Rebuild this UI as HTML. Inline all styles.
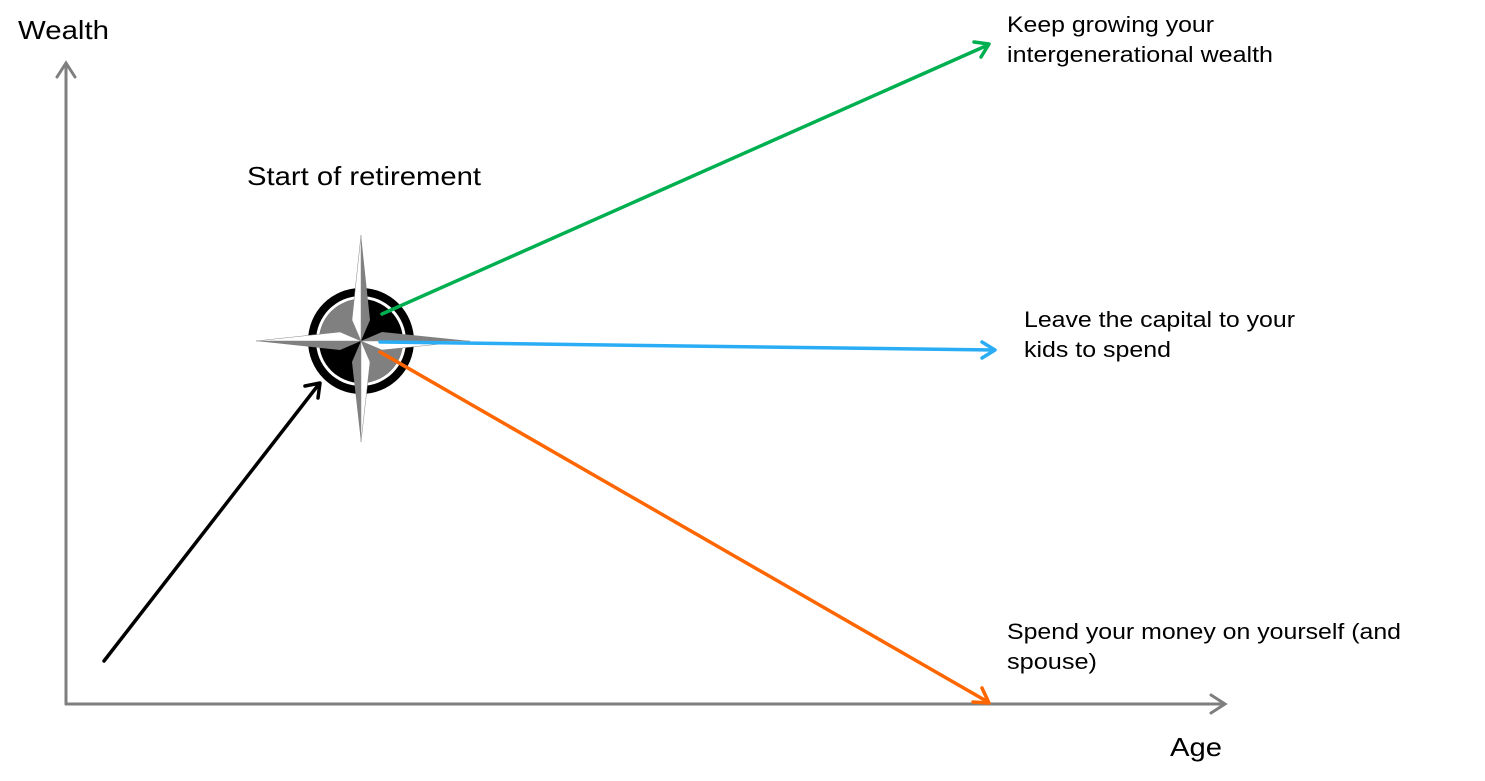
<!DOCTYPE html>
<html><head><style>body{margin:0;background:#fff}svg{display:block}text{font-family:"Liberation Sans",sans-serif;fill:#000}</style></head><body>
<svg width="1485" height="781" viewBox="0 0 1485 781">
<g stroke="#7f7f7f" stroke-width="3" fill="none" stroke-linecap="round">
<line x1="66" y1="704" x2="66" y2="64"/><polyline points="57,77 66,63 75,77"/>
<line x1="66" y1="704" x2="1224" y2="704"/><polyline points="1211,695 1225,704 1211,713"/>
</g>
<text x="18" y="39" font-size="26" textLength="91" lengthAdjust="spacingAndGlyphs">Wealth</text>
<text x="1170" y="756" font-size="26" textLength="52" lengthAdjust="spacingAndGlyphs">Age</text>
<text x="247" y="185" font-size="26" textLength="234" lengthAdjust="spacingAndGlyphs">Start of retirement</text>
<text x="1007" y="32" font-size="22" textLength="207" lengthAdjust="spacingAndGlyphs">Keep growing your</text>
<text x="1007" y="62" font-size="22" textLength="266" lengthAdjust="spacingAndGlyphs">intergenerational wealth</text>
<text x="1024" y="327" font-size="22" textLength="271" lengthAdjust="spacingAndGlyphs">Leave the capital to your</text>
<text x="1024" y="357" font-size="22" textLength="147" lengthAdjust="spacingAndGlyphs">kids to spend</text>
<text x="1007" y="639" font-size="22" textLength="394" lengthAdjust="spacingAndGlyphs">Spend your money on yourself (and</text>
<text x="1007" y="669" font-size="22" textLength="90" lengthAdjust="spacingAndGlyphs">spouse)</text>
<!-- compass -->
<circle cx="361" cy="341" r="53" fill="#000"/>
<circle cx="361" cy="341" r="45" fill="#fff"/>
<circle cx="361" cy="341" r="42" fill="#000"/>
<path d="M361,341 L361,299 A42,42 0 0 0 319,341 Z" fill="#808080"/>
<path d="M361,341 L403,341 A42,42 0 0 1 361,383 Z" fill="#808080"/>
<polygon points="361,235 370,320 361,341" fill="#808080"/>
<polygon points="361,235 352,320 361,341" fill="#fff" stroke="#888" stroke-width="0.5"/>
<polygon points="361,442 352,362 361,341" fill="#808080"/>
<polygon points="361,442 370,362 361,341" fill="#fff" stroke="#888" stroke-width="0.5"/>
<polygon points="256,341 340,332 361,341" fill="#fff" stroke="#888" stroke-width="0.5"/>
<polygon points="256,341 340,350 361,341" fill="#808080"/>
<polygon points="470,341 382,332 361,341" fill="#808080"/>
<polygon points="470,341 382,350 361,341" fill="#fff" stroke="#888" stroke-width="0.5"/>
<g stroke-width="3.5" fill="none" stroke-linecap="round" stroke-linejoin="round">
<line x1="104" y1="661" x2="319" y2="384" stroke="#000"/><polyline points="305,386 320,383 318,398" stroke="#000"/>
<line x1="382" y1="314" x2="988" y2="45" stroke="#00b050"/><polyline points="974,42 989,44 981,57" stroke="#00b050"/>
<line x1="380" y1="342" x2="994" y2="350" stroke="#2aadf5"/><polyline points="982,342 995,350 982,358" stroke="#2aadf5"/>
<line x1="380" y1="352" x2="988" y2="702" stroke="#ff6600"/><polyline points="982,688 989,703 973,702" stroke="#ff6600"/>
</g>
</svg>
</body></html>
